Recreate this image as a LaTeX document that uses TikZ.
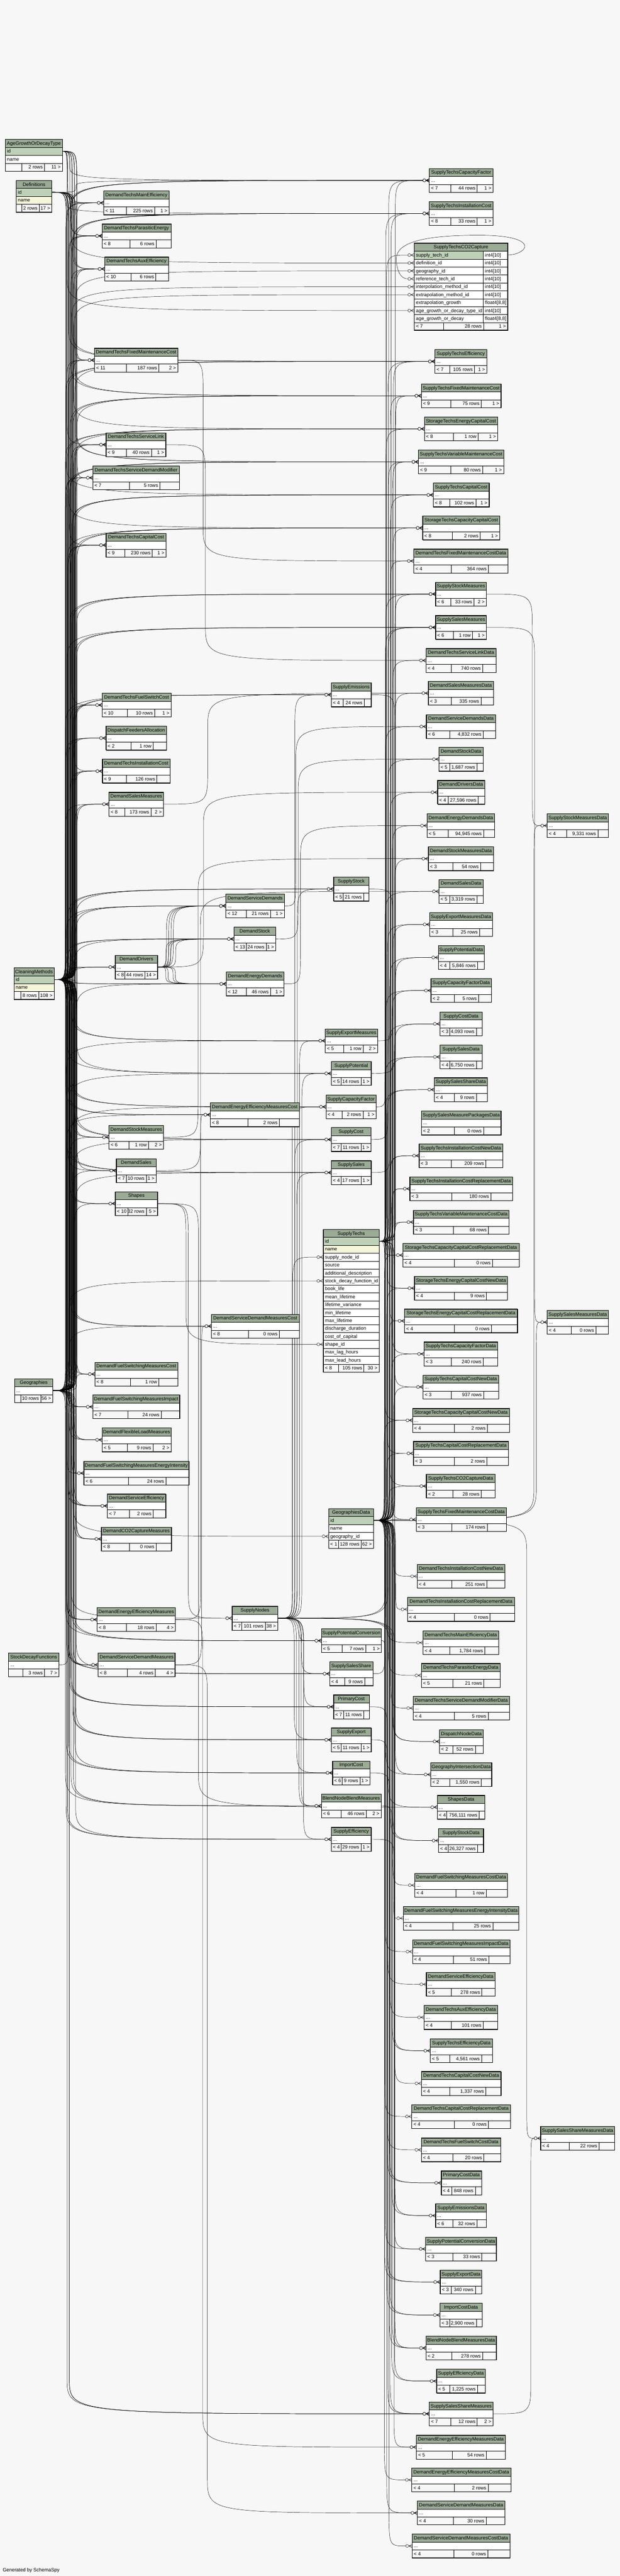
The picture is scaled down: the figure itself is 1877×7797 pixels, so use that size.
\documentclass[tikz,border=0pt]{standalone}
\usepackage{fontspec}
\setmainfont{Liberation Sans}
\usetikzlibrary{calc}
\definecolor{hdrc}{HTML}{9BAB96}
\definecolor{pkc}{HTML}{BED1B8}
\definecolor{idxc}{HTML}{F4F7DA}
\definecolor{bgc}{HTML}{F7F7F7}
\newcommand\tfont{\fontsize{11pt}{13pt}\selectfont}
\pgfdeclarelayer{back}\pgfdeclarelayer{edges}\pgfsetlayers{back,edges,main}
\tikzset{
  cell/.style={draw=black, line width=0.45pt},
  outer/.style={draw=black, line width=1pt},
  fkl/.style={draw=black, line width=0.55pt},
  txt/.style={inner sep=0pt, font=\tfont},
}
\def\getdd#1/#2\end{\def\dA{#1}\def\dB{#2}}
\newcommand\hdr[5]{%
  \filldraw[fill=hdrc,cell] (#3,#4) rectangle (#5,#4+24);
  \node[txt,anchor=base] (#1) at ({(#3+#5)/2},#4+17) {#2};}
\newcommand\rowc[6]{%
  \filldraw[fill=#5,cell] (#2,#4) rectangle (#3,#4+24);
  \node[txt,anchor=base west] (#1) at (#2+5,#4+17) {#6};}
\newcommand\foot[8]{%
  \getdd#5\end
  \filldraw[fill=bgc,cell] (#2,#3) rectangle (\dA,#3+24);
  \filldraw[fill=bgc,cell] (\dA,#3) rectangle (\dB,#3+24);
  \filldraw[fill=bgc,cell] (\dB,#3) rectangle (#4,#3+24);
  \node[txt,anchor=base west] (#1-f1) at (#2+5,#3+17) {#6};
  \node[txt,anchor=base east] (#1-f2) at (\dB-5,#3+17) {#7};
  \node[txt,anchor=base east] (#1-f3) at (#4-5,#3+17) {#8};}
\newcommand\stab[9]{%
  \hdr{#1}{#2}{#3}{#4}{#5}
  \rowc{#1-r}{#3}{#5}{#4+24}{white}{...}
  \foot{#1}{#3}{#4+48}{#5}{#6}{#7}{#8}{#9}
  \draw[outer] (#3,#4) rectangle (#5,#4+72);
  \coordinate (#1-w) at (#3,#4+36);
  \coordinate (#1-e) at (#5,#4+36);}
\newdimen\fkd
\newcounter{fkc}
\newcommand\fkmark[1]{%
  \draw[fkl,fill=bgc] ($(#1)+(-15,0)$) circle[radius=3.3pt];
  \draw[fkl] ($(#1)+(-10,0)$) -- ($(#1)+(0,-5)$) ($(#1)+(-10,0)$) -- (#1) ($(#1)+(-10,0)$) -- ($(#1)+(0,5)$);}
\newcommand\fk[3]{%
  \stepcounter{fkc}\edef\fkk{\the\value{fkc}}%
  \pgfextractx{\fkd}{\pgfpointanchor{#1}{center}}\edef\fkXa{\the\fkd}%
  \pgfextracty{\fkd}{\pgfpointanchor{#1}{center}}\edef\fkYa{\the\fkd}%
  \pgfextractx{\fkd}{\pgfpointanchor{#2}{center}}\edef\fkXb{\the\fkd}%
  \pgfextracty{\fkd}{\pgfpointanchor{#2}{center}}\edef\fkYb{\the\fkd}%
  \pgfmathsetmacro\fkcx{max(min((#3+mod(\fkk*7,36))*0.75,\fkXb-22),\fkXa+4)}%
  \pgfmathsetmacro\fkdy{\fkYb-\fkYa}%
  \pgfmathsetmacro\fkr{min(abs(\fkdy)/2,80)}%
  \pgfmathsetmacro\fks{(\fkdy<0)?-1:1}%
  \pgfmathsetmacro\fkyA{\fkYa+\fks*\fkr}%
  \pgfmathsetmacro\fkyB{\fkYb-\fks*\fkr}%
  \draw[fkl] (#1) .. controls (\fkcx pt,\fkYa) .. (\fkcx pt,\fkyA pt) -- (\fkcx pt,\fkyB pt) .. controls (\fkcx pt,\fkYb) .. ($(#2)+(-19.5,0)$);
  \fkmark{#2}}
\begin{document}
\begin{tikzpicture}[x=0.75pt,y=-0.75pt]
\useasboundingbox (0,0) rectangle (1877,7797);
\begin{pgfonlayer}{back}
\fill[bgc] (0,0) rectangle (1877,7797);
\end{pgfonlayer}

% ---------- left parents ----------
\hdr{agt}{AgeGrowthOrDecayType}{16}{422}{189}
\rowc{agt-r1}{16}{189}{446}{pkc}{id}
\rowc{agt-r2}{16}{189}{470}{white}{name}
\foot{agt}{16}{494}{189}{66/135}{}{2 rows}{11 >}
\draw[outer] (16,422) rectangle (189,518);
\coordinate (agt-e) at (189,458);

\hdr{def}{Definitions}{49}{546}{157}
\rowc{def-r1}{49}{157}{570}{pkc}{id}
\rowc{def-r2}{49}{157}{594}{idxc}{name}
\foot{def}{49}{618}{157}{66/119}{}{2 rows}{17 >}
\draw[outer] (49,546) rectangle (157,642);
\coordinate (def-e) at (157,582);

\hdr{cm}{CleaningMethods}{42}{2929}{164}
\rowc{cm-r1}{42}{164}{2953}{pkc}{id}
\rowc{cm-r2}{42}{164}{2977}{idxc}{name}
\foot{cm}{42}{3001}{164}{63/117}{}{8 rows}{108 >}
\draw[outer] (42,2929) rectangle (164,3025);
\coordinate (cm-e) at (164,2965);

\stab{geo}{Geographies}{44}{4173}{160}{62/123}{}{10 rows}{56 >}
\stab{sdf}{StockDecayFunctions}{26}{5003}{178}{69/135}{}{3 rows}{7 >}

% ---------- column B ----------
\stab{dtme}{DemandTechsMainEfficiency}{314}{578}{512}{382/468}{< 11}{225 rows}{1 >}
\stab{dtpe}{DemandTechsParasiticEnergy}{309}{678}{518}{393/473}{< 8}{6 rows}{}
\stab{dtae}{DemandTechsAuxEfficiency}{317}{778}{510}{397/472}{< 10}{6 rows}{}
\stab{dtfm}{DemandTechsFixedMaintenanceCost}{286}{1054}{538}{382/481}{< 11}{187 rows}{2 >}
\stab{dtsl}{DemandTechsServiceLink}{321}{1310}{502}{382/458}{< 9}{40 rows}{1 >}
\stab{dtsdm}{DemandTechsServiceDemandModifier}{281}{1410}{543}{391/484}{< 7}{5 rows}{}
\stab{dtcc}{DemandTechsCapitalCost}{321}{1614}{503}{378/461}{< 9}{230 rows}{1 >}
\stab{dtfs}{DemandTechsFuelSwitchCost}{309}{2098}{518}{386/468}{< 10}{10 rows}{1 >}
\stab{dfa}{DispatchFeedersAllocation}{321}{2198}{504}{397/464}{< 2}{1 row}{}
\stab{dtic}{DemandTechsInstallationCost}{310}{2298}{515}{383/475}{< 9}{126 rows}{}
\stab{dsm}{DemandSalesMeasures}{330}{2398}{495}{378/457}{< 8}{173 rows}{2 >}
\stab{dd}{DemandDrivers}{349}{2891}{477}{378/439}{< 8}{44 rows}{14 >}
\stab{dstm}{DemandStockMeasures}{330}{3406}{495}{390/450}{< 6}{1 row}{2 >}
\stab{dsal}{DemandSales}{352}{3507}{473}{382/443}{< 7}{10 rows}{1 >}
\stab{shp}{Shapes}{349}{3607}{477}{387/443}{< 10}{32 rows}{5 >}
\stab{dfsc}{DemandFuelSwitchingMeasuresCost}{287}{4123}{538}{395/481}{< 8}{1 row}{}
\stab{dfsi}{DemandFuelSwitchingMeasuresImpact}{281}{4222}{544}{387/488}{< 7}{24 rows}{}
\stab{dflm}{DemandFlexibleLoadMeasures}{309}{4322}{518}{386/463}{< 5}{9 rows}{2 >}
\stab{dfse}{DemandFuelSwitchingMeasuresEnergyIntensity}{254}{4423}{572}{388/502}{< 6}{24 rows}{}
\stab{dse}{DemandServiceEfficiency}{325}{4522}{502}{392/464}{< 7}{2 rows}{}
\stab{dco2}{DemandCO2CaptureMeasures}{307}{4622}{519}{392/473}{< 8}{0 rows}{}
\stab{deem}{DemandEnergyEfficiencyMeasures}{294}{4866}{531}{382/473}{< 8}{18 rows}{4 >}
\stab{dsdm}{DemandServiceDemandMeasures}{297}{5003}{530}{386/470}{< 8}{4 rows}{4 >}

% ---------- column C ----------
\stab{dsd}{DemandServiceDemands}{684}{2706}{861}{745/819}{< 12}{21 rows}{1 >}
\stab{dstk}{DemandStock}{708}{2806}{835}{745/806}{< 13}{24 rows}{1 >}
\stab{ded}{DemandEnergyDemands}{685}{2942}{860}{745/819}{< 12}{46 rows}{1 >}
\stab{deemc}{DemandEnergyEfficiencyMeasuresCost}{637}{3338}{906}{750/846}{< 8}{2 rows}{}
\stab{dsdmc}{DemandServiceDemandMeasuresCost}{640}{3978}{906}{752/846}{< 8}{0 rows}{}
\stab{sn}{SupplyNodes}{703}{4862}{841}{732/803}{< 7}{101 rows}{38 >}

% ---------- middle column ----------
\stab{sem}{SupplyEmissions}{1003}{2067}{1124}{1039/1103}{< 4}{24 rows}{}
\stab{sstk}{SupplyStock}{1010}{2655}{1117}{1039/1101}{< 5}{21 rows}{}
\stab{sexm}{SupplyExportMeasures}{985}{3114}{1143}{1041/1100}{< 5}{1 row}{2 >}
\stab{spot}{SupplyPotential}{1003}{3213}{1124}{1032/1093}{< 5}{14 rows}{1 >}
\stab{scf}{SupplyCapacityFactor}{987}{3314}{1139}{1036/1099}{< 4}{2 rows}{1 >}
\stab{scost}{SupplyCost}{1003}{3413}{1123}{1032/1093}{< 7}{11 rows}{1 >}
\stab{ssal}{SupplySales}{1003}{3513}{1124}{1032/1093}{< 4}{17 rows}{1 >}
\stab{spc}{SupplyPotentialConversion}{973}{4930}{1155}{1036/1107}{< 5}{7 rows}{1 >}
\stab{sss}{SupplySalesShare}{998}{5030}{1129}{1043/1104}{< 4}{9 rows}{}
\stab{pc}{PrimaryCost}{1010}{5130}{1118}{1040/1101}{< 7}{11 rows}{}
\stab{sexp}{SupplyExport}{1003}{5230}{1124}{1032/1093}{< 5}{11 rows}{1 >}
\stab{ic}{ImportCost}{1007}{5330}{1120}{1036/1090}{< 6}{9 rows}{1 >}
\stab{bnbm}{BlendNodeBlendMeasures}{973}{5430}{1154}{1032/1109}{< 6}{46 rows}{2 >}
\stab{seff}{SupplyEfficiency}{1003}{5531}{1124}{1032/1093}{< 4}{29 rows}{1 >}

% SupplyTechs
\hdr{st}{SupplyTechs}{979}{3721}{1148}
\rowc{st-r1}{979}{1148}{3745}{pkc}{id}
\rowc{st-r2}{979}{1148}{3769}{idxc}{name}
\foreach \t [count=\i from 3] in {supply\_node\_id,source,additional\_description,stock\_decay\_function\_id,book\_life,mean\_lifetime,lifetime\_variance,min\_lifetime,max\_lifetime,discharge\_duration,cost\_of\_capital,shape\_id,max\_lag\_hours,max\_lead\_hours}{\rowc{st-r\i}{979}{1148}{3721+24*\i}{white}{\t}}
\foot{st}{979}{4129}{1148}{1025/1102}{< 8}{105 rows}{30 >}
\draw[outer] (979,3721) rectangle (1148,4153);
\coordinate (st-e) at (1148,3757);
\coordinate (st-sn) at (979,3805);
\coordinate (st-sdf) at (979,3877);
\coordinate (st-shp) at (979,4069);

% GeographiesData
\hdr{gd}{GeographiesData}{995}{4566}{1131}
\rowc{gd-r1}{995}{1131}{4590}{pkc}{id}
\rowc{gd-r2}{995}{1131}{4614}{white}{name}
\rowc{gd-r3}{995}{1131}{4638}{white}{geography\_id}
\foot{gd}{995}{4662}{1131}{1025/1094}{< 1}{128 rows}{62 >}
\draw[outer] (995,4566) rectangle (1131,4686);
\coordinate (gd-e) at (1131,4602);
\coordinate (gd-geo) at (995,4650);

% ---------- right column ----------
\stab{stcf}{SupplyTechsCapacityFactor}{1300}{510}{1493}{1365/1445}{< 7}{44 rows}{1 >}
\stab{stic}{SupplyTechsInstallationCost}{1300}{610}{1493}{1365/1445}{< 8}{33 rows}{1 >}

\hdr{co2}{SupplyTechsCO2Capture}{1254.5}{736}{1537}
\rowc{co2-n1}{1254.5}{1463.6}{760}{pkc}{supply\_tech\_id}
\rowc{co2-t1}{1463.6}{1537}{760}{white}{int4[10]}
\rowc{co2-n2}{1254.5}{1463.6}{784}{white}{definition\_id}
\rowc{co2-t2}{1463.6}{1537}{784}{white}{int4[10]}
\rowc{co2-n3}{1254.5}{1463.6}{808}{white}{geography\_id}
\rowc{co2-t3}{1463.6}{1537}{808}{white}{int4[10]}
\rowc{co2-n4}{1254.5}{1463.6}{832}{white}{reference\_tech\_id}
\rowc{co2-t4}{1463.6}{1537}{832}{white}{int4[10]}
\rowc{co2-n5}{1254.5}{1463.6}{856}{white}{interpolation\_method\_id}
\rowc{co2-t5}{1463.6}{1537}{856}{white}{int4[10]}
\rowc{co2-n6}{1254.5}{1463.6}{880}{white}{extrapolation\_method\_id}
\rowc{co2-t6}{1463.6}{1537}{880}{white}{int4[10]}
\rowc{co2-n7}{1254.5}{1463.6}{904}{white}{extrapolation\_growth}
\rowc{co2-t7}{1463.6}{1537}{904}{white}{float4[8,8]}
\rowc{co2-n8}{1254.5}{1463.6}{928}{white}{age\_growth\_or\_decay\_type\_id}
\rowc{co2-t8}{1463.6}{1537}{928}{white}{int4[10]}
\rowc{co2-n9}{1254.5}{1463.6}{952}{white}{age\_growth\_or\_decay}
\rowc{co2-t9}{1463.6}{1537}{952}{white}{float4[8,8]}
\foot{co2}{1254.5}{976}{1537}{1343/1464}{< 7}{28 rows}{1 >}
\draw[draw=black,line width=2pt] (1254.5,736) rectangle (1537,1000);
\coordinate (co2-e) at (1537,772);
\coordinate (co2-st) at (1254.5,772);
\coordinate (co2-def) at (1254.5,796);
\coordinate (co2-geo) at (1254.5,820);
\coordinate (co2-ref) at (1254.5,844);
\coordinate (co2-int) at (1254.5,868);
\coordinate (co2-ext) at (1254.5,892);
\coordinate (co2-agt) at (1254.5,940);

\stab{steff}{SupplyTechsEfficiency}{1317}{1058}{1474}{1361/1437}{< 7}{105 rows}{1 >}
\stab{stfm}{SupplyTechsFixedMaintenanceCost}{1276}{1162}{1517}{1365/1457}{< 9}{75 rows}{1 >}
\stab{stec}{StorageTechsEnergyCapitalCost}{1285}{1262}{1507}{1373/1448}{< 8}{1 row}{1 >}
\stab{stvm}{SupplyTechsVariableMaintenanceCost}{1267}{1362}{1525}{1365/1461}{< 9}{80 rows}{1 >}
\stab{stcc}{SupplyTechsCapitalCost}{1312}{1462}{1481}{1361/1441}{< 8}{102 rows}{1 >}
\stab{stcap}{StorageTechsCapacityCapitalCost}{1280}{1562}{1513}{1369/1454}{< 8}{2 rows}{1 >}
\stab{dtfmd}{DemandTechsFixedMaintenanceCostData}{1253}{1662}{1538}{1366/1479}{< 4}{364 rows}{}
\stab{ssm}{SupplyStockMeasures}{1319}{1762}{1473}{1365/1435}{< 6}{33 rows}{2 >}
\stab{ssalm}{SupplySalesMeasures}{1319}{1863}{1473}{1373/1431}{< 6}{1 row}{1 >}
\stab{dtsld}{DemandTechsServiceLinkData}{1290}{1963}{1502}{1367/1461}{< 4}{740 rows}{}
\stab{dsmd}{DemandSalesMeasuresData}{1297}{2062}{1494}{1366/1456}{< 3}{335 rows}{}
\stab{dsdd}{DemandServiceDemandsData}{1291}{2163}{1501}{1361/1463}{< 6}{4,832 rows}{}
\stab{dstkd}{DemandStockData}{1329}{2262}{1463}{1361/1444}{< 5}{1,687 rows}{}
\stab{ddd}{DemandDriversData}{1325}{2362}{1468}{1357/1448}{< 4}{27,596 rows}{}
\stab{dedd}{DemandEnergyDemandsData}{1293}{2463}{1498}{1357/1464}{< 5}{94,945 rows}{}
\stab{dstmd}{DemandStockMeasuresData}{1297}{2563}{1494}{1371/1455}{< 3}{54 rows}{}
\stab{dsald}{DemandSalesData}{1329}{2662}{1463}{1361/1444}{< 5}{3,319 rows}{}
\stab{ssmd}{SupplyStockMeasuresData}{1657}{2463}{1842}{1715/1810}{< 4}{9,331 rows}{}
\stab{sexmd}{SupplyExportMeasuresData}{1301}{2762}{1491}{1371/1452}{< 3}{25 rows}{}
\stab{spotd}{SupplyPotentialData}{1327}{2862}{1466}{1361/1446}{< 4}{5,846 rows}{}
\stab{scfd}{SupplyCapacityFactorData}{1305}{2962}{1488}{1376/1449}{< 2}{5 rows}{}
\stab{scostd}{SupplyCostData}{1332}{3063}{1460}{1361/1442}{< 3}{4,093 rows}{}
\stab{ssald}{SupplySalesData}{1332}{3163}{1460}{1361/1442}{< 4}{6,750 rows}{}
\stab{sssd}{SupplySalesShareData}{1315}{3262}{1476}{1375/1442}{< 4}{9 rows}{}
\stab{ssmpd}{SupplySalesMeasurePackagesData}{1276}{3363}{1517}{1376/1464}{< 2}{0 rows}{}
\stab{sticnd}{SupplyTechsInstallationCostNewData}{1269}{3462}{1522}{1366/1471}{< 3}{209 rows}{}
\stab{sticrd}{SupplyTechsInstallationCostReplacementData}{1241}{3562}{1552}{1368/1486}{< 3}{180 rows}{}
\stab{stvmd}{SupplyTechsVariableMaintenanceCostData}{1252}{3663}{1541}{1372/1479}{< 3}{68 rows}{}
\stab{stcaprd}{StorageTechsCapacityCapitalCostReplacementData}{1220}{3763}{1572}{1375/1491}{< 4}{0 rows}{}
\stab{stecnd}{StorageTechsEnergyCapitalCostNewData}{1255}{3863}{1537}{1375/1473}{< 4}{9 rows}{}
\stab{stecrd}{StorageTechsEnergyCapitalCostReplacementData}{1225}{3962}{1567}{1375/1488}{< 4}{0 rows}{}
\stab{ssalmd}{SupplySalesMeasuresData}{1657}{3966}{1842}{1729/1804}{< 4}{0 rows}{}
\stab{stcfd}{SupplyTechsCapacityFactorData}{1284}{4062}{1507}{1366/1463}{< 3}{240 rows}{}
\stab{stccnd}{SupplyTechsCapitalCostNewData}{1281}{4162}{1510}{1366/1464}{< 3}{937 rows}{}
\stab{stcapnd}{StorageTechsCapacityCapitalCostNewData}{1249}{4263}{1543}{1375/1476}{< 4}{2 rows}{}
\stab{stccrd}{SupplyTechsCapitalCostReplacementData}{1252}{4363}{1540}{1375/1474}{< 3}{2 rows}{}
\stab{co2d}{SupplyTechsCO2CaptureData}{1291}{4462}{1499}{1371/1457}{< 2}{28 rows}{}
\stab{stfmd}{SupplyTechsFixedMaintenanceCostData}{1260}{4563}{1533}{1368/1475}{< 3}{174 rows}{}
\stab{dticnd}{DemandTechsInstallationCostNewData}{1263}{4735}{1529}{1368/1474}{< 4}{251 rows}{}
\stab{dticrd}{DemandTechsInstallationCostReplacementData}{1234}{4835}{1558}{1375/1484}{< 4}{0 rows}{}
\stab{dtmed}{DemandTechsMainEfficiencyData}{1281}{4936}{1510}{1361/1468}{< 4}{1,784 rows}{}
\stab{dtped}{DemandTechsParasiticEnergyData}{1276}{5035}{1515}{1371/1465}{< 5}{21 rows}{}
\stab{dtsdmd}{DemandTechsServiceDemandModifierData}{1251}{5134}{1543}{1376/1478}{< 4}{5 rows}{}
\stab{dnd}{DispatchNodeData}{1331}{5235}{1463}{1371/1439}{< 2}{52 rows}{}
\stab{gid}{GeographyIntersectionData}{1304}{5335}{1489}{1361/1457}{< 2}{1,550 rows}{}
\stab{shpd}{ShapesData}{1324}{5434}{1468}{1353/1451}{< 4}{756,111 rows}{}
\stab{sstkd}{SupplyStockData}{1328}{5535}{1464}{1357/1446}{< 4}{26,327 rows}{}
\stab{dfscd}{DemandFuelSwitchingMeasuresCostData}{1256}{5670}{1537}{1380/1472}{< 4}{1 row}{}
\stab{dfsed}{DemandFuelSwitchingMeasuresEnergyIntensityData}{1221}{5770}{1571}{1371/1492}{< 4}{25 rows}{}
\stab{dfsid}{DemandFuelSwitchingMeasuresImpactData}{1249}{5871}{1544}{1372/1480}{< 4}{51 rows}{}
\stab{dsed}{DemandServiceEfficiencyData}{1291}{5970}{1499}{1366/1459}{< 5}{278 rows}{}
\stab{dtaed}{DemandTechsAuxEfficiencyData}{1284}{6070}{1507}{1366/1463}{< 4}{101 rows}{}
\stab{steffd}{SupplyTechsEfficiencyData}{1303}{6171}{1491}{1361/1458}{< 5}{4,561 rows}{}
\stab{dtccnd}{DemandTechsCapitalCostNewData}{1276}{6270}{1517}{1361/1471}{< 4}{1,337 rows}{}
\stab{dtccrd}{DemandTechsCapitalCostReplacementData}{1247}{6370}{1546}{1376/1479}{< 4}{0 rows}{}
\stab{sssmd}{SupplySalesShareMeasuresData}{1637}{6436}{1861}{1724/1814}{< 4}{22 rows}{}
\stab{dtfsd}{DemandTechsFuelSwitchCostData}{1276}{6471}{1516}{1371/1465}{< 4}{20 rows}{}
\stab{pcd}{PrimaryCostData}{1336}{6571}{1458}{1368/1439}{< 4}{848 rows}{}
\stab{semd}{SupplyEmissionsData}{1319}{6670}{1473}{1371/1444}{< 6}{32 rows}{}
\stab{spcd}{SupplyPotentialConversionData}{1289}{6771}{1503}{1371/1459}{< 3}{33 rows}{}
\stab{sexpd}{SupplyExportData}{1333}{6871}{1459}{1366/1439}{< 3}{340 rows}{}
\stab{icd}{ImportCostData}{1332}{6971}{1460}{1361/1442}{< 3}{2,900 rows}{}
\stab{bnbmd}{BlendNodeBlendMeasuresData}{1290}{7071}{1503}{1368/1461}{< 2}{278 rows}{}
\stab{seffd}{SupplyEfficiencyData}{1322}{7171}{1469}{1361/1446}{< 5}{1,225 rows}{}
\stab{sssm}{SupplySalesShareMeasures}{1300}{7270}{1493}{1365/1445}{< 7}{12 rows}{2 >}
\stab{deemd}{DemandEnergyEfficiencyMeasuresData}{1261}{7371}{1530}{1370/1472}{< 5}{54 rows}{}
\stab{deemcd}{DemandEnergyEfficiencyMeasuresCostData}{1247}{7470}{1547}{1376/1478}{< 4}{2 rows}{}
\stab{dsdmd}{DemandServiceDemandMeasuresData}{1264}{7570}{1529}{1372/1472}{< 4}{30 rows}{}
\stab{dsdmcd}{DemandServiceDemandMeasuresCostData}{1248}{7670}{1544}{1374/1477}{< 4}{0 rows}{}

\node[txt,anchor=base west] (gen) at (8,7784) {Generated by SchemaSpy};

% ---------- connectors ----------
\begin{pgfonlayer}{edges}
% AgeGrowthOrDecayType
\foreach \cc in {dtme,dtpe,dtae,dtfm,dtsdm,dse,stcf,steff,stfm,stvm}{\fk{agt-e}{\cc-w}{198}}
\fk{agt-e}{co2-agt}{198}
% Definitions
\foreach \cc in {dtme,dtpe,dtae,dtfm,dtsl,dtcc,dtfs,dtic,stcf,stic,steff,stfm,stec,stvm,stcc,stcap}{\fk{def-e}{\cc-w}{198}}
\fk{def-e}{co2-def}{198}
% Geographies
\fk{geo-e}{gd-geo}{198}
\fk{geo-e}{co2-geo}{198}
\foreach \cc in {dtme,dtpe,dtae,dtfm,dtsl,dtsdm,dtcc,dtfs,dfa,dtic,dsm,dd,dstm,dsal,shp,dfsc,dfsi,dflm,dfse,dse,dco2,deem,dsdm,dsd,dstk,ded,deemc,dsdmc,sn,sem,sstk,sexm,spot,scf,scost,ssal,spc,sss,pc,sexp,ic,bnbm,seff,stcf,stic,steff,stfm,stec,stvm,stcc,stcap,ssm,ssalm,sssm}{\fk{geo-e}{\cc-w}{198}}
% CleaningMethods
\fk{cm-e}{co2-int}{198}
\fk{cm-e}{co2-ext}{198}
\foreach \cc in {dtme,dtpe,dtae,dtfm,dtsl,dtsdm,dtcc,dtfs,dfa,dtic,dsm,dd,dstm,dsal,shp,dfsc,dfsi,dflm,dfse,dse,dco2,deem,dsdm,dsd,dstk,ded,deemc,dsdmc,sem,sstk,sexm,spot,scf,scost,ssal,spc,sss,pc,sexp,ic,bnbm,seff,stcf,stic,steff,stfm,stec,stvm,stcc,stcap,ssm,ssalm,sssm}{\fk{cm-e}{\cc-w}{198}\fk{cm-e}{\cc-w}{198}}
% GeographiesData
\foreach \cc in {dtfmd,dtsld,dsmd,dsdd,dstkd,ddd,dedd,dstmd,dsald,sexmd,spotd,scfd,scostd,ssald,sssd,sticnd,sticrd,stvmd,stcaprd,stecnd,stecrd,stcfd,stccnd,stcapnd,stccrd,co2d,stfmd,dticnd,dticrd,dtmed,dtped,dtsdmd,dnd,gid,gid,shpd,sstkd,dfscd,dfsed,dfsid,dsed,dtaed,steffd,dtccnd,dtccrd,dtfsd,pcd,semd,spcd,sexpd,icd,bnbmd,seffd,deemd,deemcd,dsdmd,dsdmcd}{\fk{gd-e}{\cc-w}{1163}}
\foreach \cc in {ssmd,ssalmd,sssmd}{\fk{gd-e}{\cc-w}{1595}}
% SupplyTechs
\fk{st-e}{co2-st}{1163}
\foreach \cc in {stcf,stic,steff,stfm,stec,stvm,stcc,stcap,stcf,stic,steff,stfm,stvm,ssm,ssalm,sssm,sticnd,sticrd,stvmd,stcaprd,stecnd,stecrd,stcfd,stccnd,stcapnd,stccrd,co2d,stfmd,steffd}{\fk{st-e}{\cc-w}{1163}}
% SupplyNodes
\fk{sn-e}{st-sn}{885}
\foreach \cc in {sem,sstk,sexm,spot,scf,scost,ssal,spc,sss,pc,sexp,ic,bnbm,bnbm,seff}{\fk{sn-e}{\cc-w}{885}}
\foreach \cc in {ssm,ssalm,sssm,dnd,bnbmd}{\fk{sn-e}{\cc-w}{1163}}
% DemandDrivers
\foreach \cc in {dsd,dsd,dsd,dsd,dstk,dstk,dstk,dstk,ded,ded,ded,ded}{\fk{dd-e}{\cc-w}{500}}
\fk{dd-e}{ddd-w}{600}
% Shapes, StockDecayFunctions
\fk{shp-e}{st-shp}{540}
\fk{shp-e}{sn-w}{540}
\fk{shp-e}{shpd-w}{600}
\fk{sdf-e}{st-sdf}{200}
% parameter tables to their data
\foreach \pp/\cc in {dtfm/dtfmd,dtsl/dtsld,dsm/dsmd,dstm/dstmd,dsal/dsald,deem/deemd,deem/deemc,dsdm/dsdmd,dsdm/dsdmc}{\fk{\pp-e}{\cc-w}{600}}
\foreach \pp/\cc in {dsd/dsdd,dstk/dstkd,ded/dedd}{\fk{\pp-e}{\cc-w}{890}}
\foreach \pp/\cc in {sexm/sexmd,spot/spotd,scf/scfd,scost/scostd,ssal/ssald,sstk/sstkd,sem/semd,spc/spcd,sexp/sexpd,ic/icd,bnbm/bnbmd,seff/seffd,sss/sssd,pc/pcd}{\fk{\pp-e}{\cc-w}{1163}}
\foreach \pp/\cc in {ssm/ssmd,ssalm/ssalmd,sssm/sssmd}{\fk{\pp-e}{\cc-w}{1595}}
% self reference of SupplyTechsCO2Capture
\draw[fkl] (co2-e) .. controls (1600,770) and (1640,712) .. (1450,712) .. controls (1260,712) and (1195,740) .. (1200,790) .. controls (1204,830) and (1218,844) .. ($(co2-ref)+(-19.5,0)$);
\fkmark{co2-ref}
\end{pgfonlayer}
\end{tikzpicture}
\end{document}
